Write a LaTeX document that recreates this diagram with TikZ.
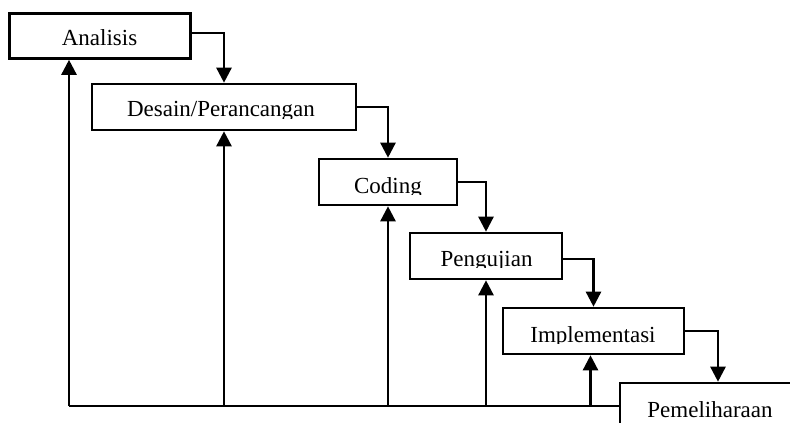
\documentclass[tikz,border=0pt]{standalone}
\usepackage{fontspec}
\setmainfont{Liberation Serif}
\usetikzlibrary{arrows.meta}

% caption of a phase, cut off just below its baseline
\newcommand\phaselabel[4]{%
  \begin{scope}
    \clip (#2-150,#3-30) rectangle (#2+150,#3+1.5);
    \node[caption] (#1) at (#2,#3) {#4};
  \end{scope}}

\begin{document}
\begin{tikzpicture}[x=1pt,y=-1pt,
  phase/.style={draw=black, line width=2.6pt, inner sep=0pt},
  caption/.style={font=\fontsize{23}{27}\selectfont, inner sep=0pt, anchor=base},
  flow/.style={line width=2.5pt, -{Triangle[width=15pt,length=15pt]}},
  plain/.style={line width=2.5pt}]
\useasboundingbox (0,0) rectangle (790,423);
\clip (0,0) rectangle (790,423);

% phase boxes
\node[phase, minimum width=181pt, minimum height=45pt] (ana) at (100,36) {};
\node[phase, minimum width=264pt, minimum height=46pt] (des) at (224,107) {};
\node[phase, minimum width=138pt, minimum height=46pt] (cod) at (388,182) {};
\node[phase, minimum width=152pt, minimum height=46pt] (pen) at (486,256) {};
\node[phase, minimum width=181pt, minimum height=46pt] (imp) at (593.5,331) {};
\node[phase, minimum width=180pt, minimum height=46pt] (pem) at (710,406) {};

% captions
\phaselabel{tana}{99.5}{45.7}{Analisis}
\phaselabel{tdes}{221}{116.7}{Desain/Perancangan}
\phaselabel{tcod}{388}{193}{Coding}
\phaselabel{tpen}{486.5}{266}{Pengujian}
\phaselabel{timp}{593}{342}{Implementasi}
\phaselabel{tpem}{710}{417}{Pemeliharaan}

% forward flow
\draw[flow] ([yshift=3pt]ana.east) -| (des.north);
\draw[flow] (des.east) -| (cod.north);
\draw[flow] (cod.east) -| (pen.north);
\draw[flow] ([yshift=-3pt]pen.east) -| (imp.north);
\draw[flow] (imp.east) -| ([xshift=8pt]pem.north);

% feedback from maintenance to every phase
\coordinate (corner) at (69,406);
\draw[plain] (pem.west) -- (corner);
\draw[flow] (corner) -- (corner |- ana.south);
\draw[flow] (des.south |- corner) -- (des.south);
\draw[flow] (cod.south |- corner) -- (cod.south);
\draw[flow] (pen.south |- corner) -- (pen.south);
\draw[flow] ([xshift=-3pt]imp.south |- corner) -- ([xshift=-3pt]imp.south);
\end{tikzpicture}
\end{document}
